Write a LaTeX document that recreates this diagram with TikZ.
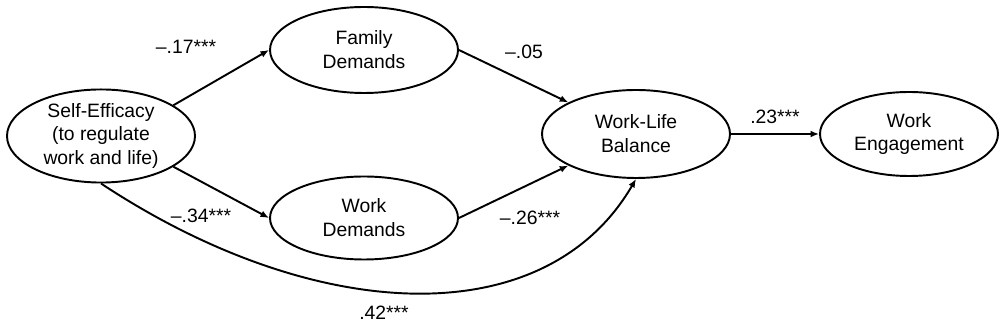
\documentclass[tikz,border=0pt]{standalone}
\usepackage{fontspec}
\setmainfont{Liberation Sans}
\usetikzlibrary{shapes.geometric,arrows.meta}
\begin{document}
\begin{tikzpicture}[font=\fontsize{11}{13.6}\selectfont, line width=1.1pt, >={Latex[length=1.7mm,width=1.4mm]},
	latent/.style={draw, ellipse, inner sep=0pt, align=center, minimum width=3.76cm, minimum height=1.72cm}]
	\useasboundingbox (0,0) rectangle (20,6.7);
	\node[latent] (se) at (2.02,3.98) {Self-Efficacy\\(to regulate\\work and life)};
	\node[latent] (fd) at (7.28,5.70) {Family\\Demands};
	\node[latent, minimum height=1.66cm] (wd) at (7.28,2.34) {Work\\Demands};
	\node[latent, minimum height=1.76cm] (wlb) at (12.72,4.02) {Work-Life\\Balance};
	\node[latent, minimum width=3.56cm, minimum height=1.68cm] (we) at (18.18,4.02) {Work\\Engagement};
	\draw[->] (se.23) -- (fd.west); \node (c1) at (3.72,5.76) {–.17***};
	\draw[->] (se.-23) -- (wd.west); \node (c2) at (4.02,2.38) {–.34***};
	\draw[->] (fd.east) -- (wlb.155); \node (c3) at (10.48,5.66) {–.05};
	\draw[->] (wd.east) -- (wlb.205); \node (c4) at (10.60,2.34) {–.26***};
	\draw[->] (se.south) .. controls (6.3,0.2) and (10.9,0.0) .. (wlb.south); \node (c5) at (7.68,0.44) {.42***};
	\draw[->] (wlb.east) -- (we.west); \node (c6) at (15.50,4.36) {.23***};
\end{tikzpicture}
\end{document}
